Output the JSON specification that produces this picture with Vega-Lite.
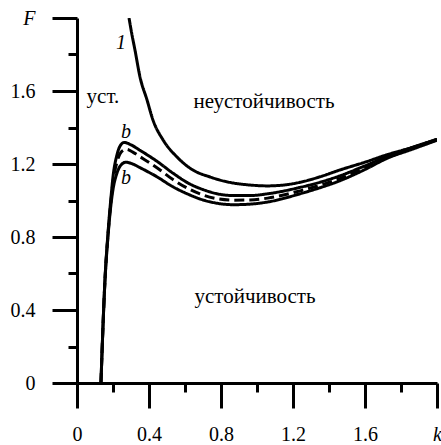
{
  "$schema": "https://vega.github.io/schema/vega-lite/v6.json",
  "width": 360,
  "height": 365,
  "autosize": {"type": "none"},
  "padding": {"left": 77, "top": 18, "right": 4, "bottom": 62},
  "background": "white",
  "config": {"view": {"stroke": null}, "axis": {"grid": false}, "font": "Liberation Serif"},
  "datasets": {
    "curves": [
      {"curve": "1", "k": 0.289, "F": 2.0},
      {"curve": "1", "k": 0.305, "F": 1.91},
      {"curve": "1", "k": 0.322, "F": 1.825},
      {"curve": "1", "k": 0.35, "F": 1.677},
      {"curve": "1", "k": 0.389, "F": 1.551},
      {"curve": "1", "k": 0.422, "F": 1.441},
      {"curve": "1", "k": 0.478, "F": 1.332},
      {"curve": "1", "k": 0.556, "F": 1.238},
      {"curve": "1", "k": 0.644, "F": 1.167},
      {"curve": "1", "k": 0.739, "F": 1.129},
      {"curve": "1", "k": 0.794, "F": 1.112},
      {"curve": "1", "k": 0.867, "F": 1.096},
      {"curve": "1", "k": 0.96, "F": 1.085},
      {"curve": "1", "k": 1.056, "F": 1.08},
      {"curve": "1", "k": 1.15, "F": 1.085},
      {"curve": "1", "k": 1.24, "F": 1.1},
      {"curve": "1", "k": 1.35, "F": 1.13},
      {"curve": "1", "k": 1.46, "F": 1.167},
      {"curve": "1", "k": 1.6, "F": 1.21},
      {"curve": "1", "k": 1.72, "F": 1.25},
      {"curve": "1", "k": 1.86, "F": 1.29},
      {"curve": "1", "k": 2.0, "F": 1.335},

      {"curve": "b1", "k": 0.133, "F": 0},
      {"curve": "b1", "k": 0.156, "F": 0.58},
      {"curve": "b1", "k": 0.172, "F": 0.82},
      {"curve": "b1", "k": 0.189, "F": 1.02},
      {"curve": "b1", "k": 0.2, "F": 1.13},
      {"curve": "b1", "k": 0.222, "F": 1.25},
      {"curve": "b1", "k": 0.24, "F": 1.3},
      {"curve": "b1", "k": 0.262, "F": 1.318},
      {"curve": "b1", "k": 0.3, "F": 1.305},
      {"curve": "b1", "k": 0.35, "F": 1.275},
      {"curve": "b1", "k": 0.444, "F": 1.215},
      {"curve": "b1", "k": 0.533, "F": 1.15},
      {"curve": "b1", "k": 0.628, "F": 1.09},
      {"curve": "b1", "k": 0.7, "F": 1.06},
      {"curve": "b1", "k": 0.778, "F": 1.037},
      {"curve": "b1", "k": 0.87, "F": 1.027},
      {"curve": "b1", "k": 0.96, "F": 1.027},
      {"curve": "b1", "k": 1.06, "F": 1.037},
      {"curve": "b1", "k": 1.24, "F": 1.072},
      {"curve": "b1", "k": 1.35, "F": 1.1},
      {"curve": "b1", "k": 1.46, "F": 1.135},
      {"curve": "b1", "k": 1.6, "F": 1.19},
      {"curve": "b1", "k": 1.72, "F": 1.24},
      {"curve": "b1", "k": 1.86, "F": 1.29},
      {"curve": "b1", "k": 2.0, "F": 1.335},

      {"curve": "b2", "k": 0.133, "F": 0},
      {"curve": "b2", "k": 0.156, "F": 0.575},
      {"curve": "b2", "k": 0.172, "F": 0.81},
      {"curve": "b2", "k": 0.189, "F": 1.0},
      {"curve": "b2", "k": 0.2, "F": 1.1},
      {"curve": "b2", "k": 0.222, "F": 1.21},
      {"curve": "b2", "k": 0.245, "F": 1.265},
      {"curve": "b2", "k": 0.275, "F": 1.28},
      {"curve": "b2", "k": 0.31, "F": 1.265},
      {"curve": "b2", "k": 0.35, "F": 1.24},
      {"curve": "b2", "k": 0.444, "F": 1.18},
      {"curve": "b2", "k": 0.533, "F": 1.115},
      {"curve": "b2", "k": 0.628, "F": 1.06},
      {"curve": "b2", "k": 0.7, "F": 1.03},
      {"curve": "b2", "k": 0.778, "F": 1.01},
      {"curve": "b2", "k": 0.87, "F": 1.002},
      {"curve": "b2", "k": 0.96, "F": 1.003},
      {"curve": "b2", "k": 1.06, "F": 1.013},
      {"curve": "b2", "k": 1.24, "F": 1.053},
      {"curve": "b2", "k": 1.35, "F": 1.083},
      {"curve": "b2", "k": 1.46, "F": 1.12},
      {"curve": "b2", "k": 1.6, "F": 1.18},
      {"curve": "b2", "k": 1.72, "F": 1.235},
      {"curve": "b2", "k": 1.86, "F": 1.285},
      {"curve": "b2", "k": 2.0, "F": 1.335},

      {"curve": "b3", "k": 0.133, "F": 0},
      {"curve": "b3", "k": 0.156, "F": 0.57},
      {"curve": "b3", "k": 0.172, "F": 0.8},
      {"curve": "b3", "k": 0.189, "F": 0.98},
      {"curve": "b3", "k": 0.2, "F": 1.06},
      {"curve": "b3", "k": 0.222, "F": 1.15},
      {"curve": "b3", "k": 0.245, "F": 1.195},
      {"curve": "b3", "k": 0.272, "F": 1.21},
      {"curve": "b3", "k": 0.31, "F": 1.2},
      {"curve": "b3", "k": 0.35, "F": 1.18},
      {"curve": "b3", "k": 0.444, "F": 1.13},
      {"curve": "b3", "k": 0.533, "F": 1.075},
      {"curve": "b3", "k": 0.628, "F": 1.03},
      {"curve": "b3", "k": 0.7, "F": 1.003},
      {"curve": "b3", "k": 0.778, "F": 0.985},
      {"curve": "b3", "k": 0.87, "F": 0.977},
      {"curve": "b3", "k": 0.96, "F": 0.98},
      {"curve": "b3", "k": 1.06, "F": 0.992},
      {"curve": "b3", "k": 1.24, "F": 1.037},
      {"curve": "b3", "k": 1.35, "F": 1.07},
      {"curve": "b3", "k": 1.46, "F": 1.108},
      {"curve": "b3", "k": 1.6, "F": 1.17},
      {"curve": "b3", "k": 1.72, "F": 1.23},
      {"curve": "b3", "k": 1.86, "F": 1.28},
      {"curve": "b3", "k": 2.0, "F": 1.33}
    ],
    "regions": [
      {"k": 0.144, "F": 1.567, "text": "уст."},
      {"k": 1.039, "F": 1.54, "text": "неустойчивость"},
      {"k": 0.989, "F": 0.471, "text": "устойчивость"}
    ],
    "curveLabels": [
      {"k": 0.245, "F": 1.863, "text": "1"},
      {"k": 0.272, "F": 1.375, "text": "b"},
      {"k": 0.272, "F": 1.123, "text": "b"}
    ]
  },
  "layer": [
    {
      "data": {"name": "curves"},
      "mark": {"type": "line", "strokeWidth": 3, "interpolate": "monotone", "color": "black", "clip": true},
      "encoding": {
        "x": {
          "field": "k", "type": "quantitative",
          "scale": {"domain": [0, 2], "nice": false, "zero": false},
          "axis": {
            "orient": "bottom", "title": null, "grid": false,
            "values": [0, 0.4, 0.8, 1.2, 1.6, 2],
            "tickSize": 25, "tickWidth": 3, "tickColor": "black", "tickCap": "butt",
            "domainWidth": 3, "domainColor": "black",
            "labelFont": "Liberation Serif", "labelFontSize": 20, "labelColor": "black",
            "labelPadding": 16, "labelOverlap": false, "labelFlush": false, "labelBound": false,
            "labelExpr": "datum.value == 2 ? 'k' : (datum.value == 0 ? '0' : format(datum.value, '.1f'))",
            "labelFontStyle": {"condition": {"test": "datum.value == 2", "value": "italic"}, "value": "normal"}
          }
        },
        "y": {
          "field": "F", "type": "quantitative",
          "scale": {"domain": [0, 2], "nice": false, "zero": false},
          "axis": {
            "orient": "left", "title": null, "grid": false,
            "values": [0, 0.4, 0.8, 1.2, 1.6, 2],
            "tickSize": 25, "tickWidth": 3, "tickColor": "black", "tickCap": "butt",
            "domainWidth": 3, "domainColor": "black",
            "labelFont": "Liberation Serif", "labelFontSize": 20, "labelColor": "black",
            "labelPadding": 17, "labelOverlap": false, "labelFlush": false, "labelBound": false,
            "labelExpr": "datum.value == 2 ? 'F' : (datum.value == 0 ? '0' : format(datum.value, '.1f'))",
            "labelFontStyle": {"condition": {"test": "datum.value == 2", "value": "italic"}, "value": "normal"}
          }
        },
        "detail": {"field": "curve", "type": "nominal"},
        "strokeDash": {
          "field": "curve", "type": "nominal",
          "scale": {"domain": ["1", "b1", "b2", "b3"], "range": [[1, 0], [1, 0], [10, 5], [1, 0]]},
          "legend": null
        }
      }
    },
    {
      "data": {"name": "regions"},
      "mark": {"type": "text", "font": "Liberation Serif", "fontSize": 21, "color": "black", "align": "center", "baseline": "middle"},
      "encoding": {
        "x": {
          "field": "k", "type": "quantitative",
          "axis": {
            "orient": "bottom", "title": null, "grid": false, "domain": false, "labels": false,
            "values": [0.2, 0.6, 1.0, 1.4, 1.8],
            "tickSize": 9, "tickWidth": 3, "tickColor": "black", "tickCap": "butt"
          }
        },
        "y": {
          "field": "F", "type": "quantitative",
          "axis": {
            "orient": "left", "title": null, "grid": false, "domain": false, "labels": false,
            "values": [0.2, 0.6, 1.0, 1.4, 1.8],
            "tickSize": 9, "tickWidth": 3, "tickColor": "black", "tickCap": "butt"
          }
        },
        "text": {"field": "text", "type": "nominal"}
      }
    },
    {
      "data": {"name": "curveLabels"},
      "mark": {"type": "text", "font": "Liberation Serif", "fontSize": 20, "fontStyle": "italic", "color": "black", "align": "center", "baseline": "middle"},
      "encoding": {
        "x": {"field": "k", "type": "quantitative", "axis": null},
        "y": {"field": "F", "type": "quantitative", "axis": null},
        "text": {"field": "text", "type": "nominal"}
      }
    }
  ],
  "resolve": {"axis": {"x": "independent", "y": "independent"}}
}
